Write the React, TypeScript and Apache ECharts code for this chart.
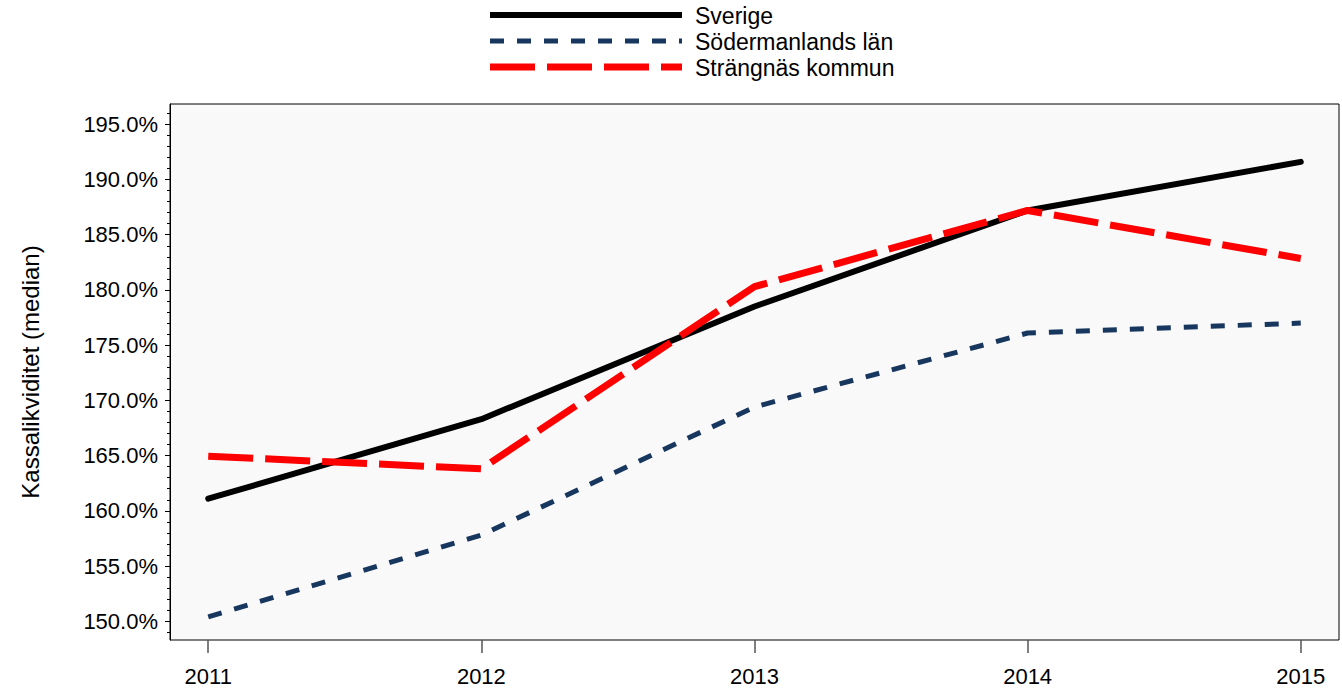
import React, { useEffect, useRef } from "react";
import * as echarts from "echarts";

const years = [2011, 2012, 2013, 2014, 2015];
const sverige = [161.1, 168.3, 178.5, 187.2, 191.6];
const sodermanland = [150.4, 157.8, 169.4, 176.1, 177.0];
const strangnas = [164.95, 163.8, 180.3, 187.2, 182.85];
const yMajorTicks = [150, 155, 160, 165, 170, 175, 180, 185, 190, 195];
const yMinorTicks = [149, 151, 152, 153, 154, 156, 157, 158, 159, 161, 162, 163, 164, 166, 167, 168, 169, 171, 172, 173, 174, 176, 177, 178, 179, 181, 182, 183, 184, 186, 187, 188, 189, 191, 192, 193, 194, 196];
const seriesNames = ["Sverige", "Södermanlands län", "Strängnäs kommun"];
const seriesColors = ["#000000", "#17375e", "#ff0000"];
const yAxisTitle = "Kassalikviditet (median)";

const FONT = "Liberation Sans, Arial, sans-serif";

const lineStyles = [
  { width: 6, dash: null as number[] | null },
  { width: 5, dash: [14, 13] },
  { width: 7, dash: [45, 12] },
];

export default function App() {
  const ref = useRef<HTMLDivElement>(null);
  useEffect(() => {
    document.body.style.margin = "0";
    if (!ref.current) return;
    const chart = echarts.init(ref.current, null, { renderer: "svg" });
    const pair = (arr: number[]) => years.map((y, i) => [y, arr[i]]);
    const legendRowsY = [15, 41, 67];
    const legendGraphics: any[] = [];
    seriesNames.forEach((name, i) => {
      legendGraphics.push({
        type: "line",
        shape: { x1: 490, y1: legendRowsY[i], x2: 682, y2: legendRowsY[i] },
        style: {
          stroke: seriesColors[i],
          lineWidth: lineStyles[i].width,
          lineDash: lineStyles[i].dash || undefined,
          lineCap: "butt",
        },
      });
      legendGraphics.push({
        type: "text",
        x: 695,
        y: legendRowsY[i] + 1,
        style: {
          text: name,
          fill: "#000",
          font: `23px ${FONT}`,
          verticalAlign: "middle",
          align: "left",
        },
      });
    });
    chart.setOption({
      animation: false,
      backgroundColor: "#ffffff",
      textStyle: { fontFamily: FONT },
      graphic: legendGraphics,
      grid: {
        left: 170,
        right: 3,
        top: 104,
        bottom: 52,
        show: true,
        backgroundColor: "#f9f9f9",
        borderColor: "#000",
        borderWidth: 1,
      },
      xAxis: {
        type: "value",
        min: 2010.86,
        max: 2015.14,
        axisLine: { show: false },
        splitLine: { show: false },
        axisTick: { show: true, customValues: years, length: 13, lineStyle: { color: "#555", width: 1.5 } },
        axisLabel: {
          customValues: years,
          fontSize: 22,
          color: "#000",
          margin: 25,
          fontFamily: FONT,
          formatter: (v: number) => String(v),
        },
      },
      yAxis: [
        {
          type: "value",
          min: 148.3,
          max: 196.84,
          name: yAxisTitle,
          nameLocation: "middle",
          nameGap: 128,
          nameTextStyle: { fontSize: 24, color: "#000", fontFamily: FONT },
          axisLine: { show: true, lineStyle: { color: "#000" } },
          splitLine: { show: false },
          axisTick: { show: true, customValues: yMajorTicks, length: 5, lineStyle: { color: "#000" } },
          axisLabel: {
            customValues: yMajorTicks,
            fontSize: 22,
            color: "#000",
            margin: 12,
            fontFamily: FONT,
            formatter: (v: number) => v.toFixed(1) + "%",
          },
        },
        {
          type: "value",
          min: 148.3,
          max: 196.84,
          position: "left",
          axisLine: { show: false },
          splitLine: { show: false },
          axisLabel: { show: false },
          axisTick: { show: true, customValues: yMinorTicks, length: 3, lineStyle: { color: "#000" } },
        },
      ],
      series: [
        {
          name: seriesNames[0],
          type: "line",
          data: pair(sverige),
          symbol: "none",
          lineStyle: { color: seriesColors[0], width: lineStyles[0].width, cap: "round", join: "round" },
          itemStyle: { color: seriesColors[0] },
          z: 2,
        },
        {
          name: seriesNames[1],
          type: "line",
          data: pair(sodermanland),
          symbol: "none",
          lineStyle: { color: seriesColors[1], width: lineStyles[1].width, type: lineStyles[1].dash, cap: "butt" },
          itemStyle: { color: seriesColors[1] },
          z: 3,
        },
        {
          name: seriesNames[2],
          type: "line",
          data: pair(strangnas),
          symbol: "none",
          lineStyle: { color: seriesColors[2], width: lineStyles[2].width, type: lineStyles[2].dash, cap: "butt" },
          itemStyle: { color: seriesColors[2] },
          z: 4,
        },
      ],
    });
    return () => chart.dispose();
  }, []);
  return <div ref={ref} style={{ width: 1342, height: 692 }} />;
}
